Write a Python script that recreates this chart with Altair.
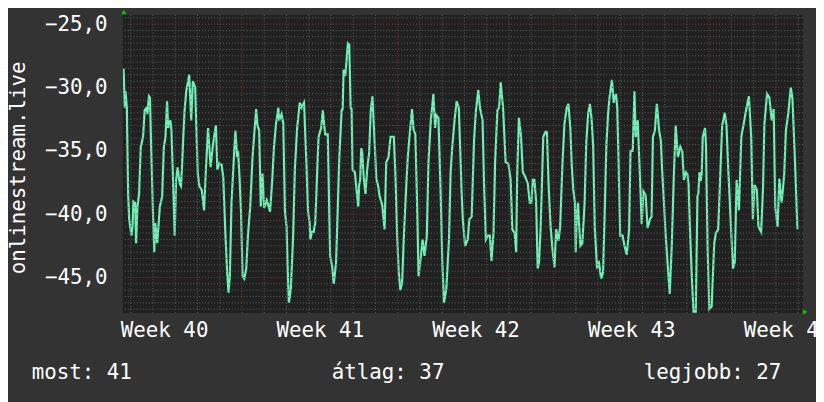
import altair as alt
import pandas as pd

# time in hours since the start of week 40, value of the series
hours = [
    40.2, 41.7, 42.4, 43.8, 45.2, 46.3, 48.8, 49.9, 50.9, 52.7, 53.8, 55.2, 57.0, 58.8, 61.3, 63.0, 65.2, 65.9, 67.7, 68.7,
    70.2, 71.9, 73.4, 74.4, 76.6, 79.4, 81.9, 83.7, 85.5, 87.2, 88.3, 90.8, 91.9, 93.3, 95.4, 96.9, 98.6, 100.8, 102.2, 103.3,
    104.3, 106.1, 107.9, 111.1, 113.2, 115.0, 117.5, 120.3, 122.1, 124.6, 127.1, 129.2, 131.4, 134.2, 136.4, 138.9, 139.9, 141.4, 143.5, 146.0,
    147.8, 149.9, 152.0, 153.5, 154.9, 156.7, 159.5, 160.9,
    162.7, 163.7, 165.5, 166.9, 168.7, 170.5, 172.6, 174.4, 176.9, 179.4, 181.5, 183.3, 184.7, 186.5, 188.3, 190.1, 191.9, 194.7, 198.3, 200.8,
    202.5, 204.7, 207.2, 208.2, 210.7, 212.5, 214.3, 216.1, 217.1, 218.6, 220.7, 223.2, 225.0, 227.5, 230.3, 232.1, 234.9, 237.4, 239.2, 241.0,
    241.7, 243.5, 245.3, 247.0, 250.6, 253.4, 255.2, 257.7, 260.5, 263.1, 265.2, 267.0, 269.5, 273.0, 275.5, 276.6, 277.6, 279.4, 282.3,
    283.7, 285.2, 286.2, 287.3, 289.8, 291.6, 293.4, 294.4, 295.5, 296.6, 297.6, 299.4, 301.2, 303.0, 305.1, 306.9, 308.7, 311.2, 312.9, 314.7,
    316.5, 319.3, 321.8, 323.6, 326.1, 328.2, 331.8, 333.6, 335.4, 337.1, 338.9, 340.7, 342.5, 344.3, 346.8, 349.3, 351.4, 353.2, 355.0, 356.7,
    358.5, 361.0, 362.8, 364.9, 367.4, 369.2, 371.7, 374.5, 376.3, 377.7, 379.9, 382.4, 384.1, 385.9, 388.4, 391.3, 393.0, 394.8, 397.3, 399.5,
    401.9, 403.7, 404.8,
    406.2, 408.7, 411.5, 413.3, 415.8, 418.3, 420.4, 422.9, 424.7, 427.5, 429.3, 431.1, 433.2, 435.4, 437.1, 439.3, 441.0, 443.5, 445.3, 447.1,
    449.6, 452.4, 455.3, 457.8, 459.6, 462.1, 463.8, 464.9, 466.7, 468.8, 471.0, 473.8, 476.3, 478.4, 480.2, 481.6, 483.4, 485.2, 487.0, 488.4,
    490.2, 493.0, 495.2, 496.9, 498.7, 500.9, 503.0, 505.1, 506.9, 509.4, 511.2, 513.7, 515.8, 518.3, 520.1, 522.2, 523.6, 525.4,
    527.2, 528.0, 529.0, 530.5, 531.5, 533.0, 535.1, 537.6, 539.4, 541.5, 543.3, 545.0, 546.8, 548.6, 551.1, 552.9, 555.4, 557.5, 559.3, 561.1,
    562.8, 564.6, 567.1, 568.9, 571.4, 572.8, 574.2, 576.0, 578.5, 580.6, 583.1, 585.6, 587.1, 589.5, 591.3, 592.8, 594.9, 597.4, 599.2, 601.0,
    603.4, 605.6, 608.1, 609.8, 611.3, 613.4, 615.5, 618.0, 619.8, 621.2, 625.1, 627.3, 629.4, 631.6, 633.7, 635.8, 638.3, 640.8, 643.0, 644.7,
    646.9, 648.3,
    649.7, 651.4, 653.2, 655.0, 657.5, 659.3, 660.3, 661.4, 662.8, 663.9, 665.0, 667.5, 668.5, 670.3, 672.1, 674.6, 677.4, 679.2, 681.7, 683.8,
    686.0, 688.8, 690.6, 692.7, 695.9, 697.7, 699.5, 701.6, 704.1, 706.6, 709.1, 712.0, 714.8, 717.3, 719.1, 720.9, 723.4, 725.1, 728.0, 730.1,
    731.5, 734.4, 736.9, 739.4, 741.5, 743.3, 745.8, 747.6, 750.1, 752.9, 754.7, 757.2, 760.0, 761.8, 764.6, 767.1, 768.2,
]
values = [
    -28.5, -31.6, -30.3, -31.6, -38.4, -40.4, -41.7, -41.0, -39.0, -39.1, -42.3, -39.4, -38.4, -34.7, -33.9, -31.8, -31.6, -32.1, -30.7, -30.8,
    -35.2, -39.7, -43.0, -40.7, -42.3, -39.4, -38.6, -34.7, -33.9, -31.1, -33.2, -32.6, -33.4, -36.5, -41.7, -37.3, -36.3, -37.6, -37.8, -36.3,
    -34.5, -31.8, -30.3, -29.0, -32.6, -29.5, -30.0, -36.8, -37.8, -38.1, -39.7, -36.3, -33.2, -36.3, -34.7, -33.4, -33.0, -36.5, -36.0, -36.1,
    -37.1, -41.2, -44.6, -46.2, -44.9, -39.1, -35.2, -33.4,
    -35.5, -35.0, -37.3, -39.7, -44.9, -45.1, -44.3, -41.7, -39.4, -35.5, -33.4, -31.7, -33.0, -33.4, -39.4, -36.8, -39.5, -38.9, -39.8, -37.1,
    -34.7, -32.9, -31.6, -32.6, -32.1, -32.8, -39.7, -41.0, -43.8, -47.0, -45.9, -41.7, -36.5, -33.2, -31.2, -31.6, -31.2, -35.8, -39.7, -40.7,
    -42.0, -41.4, -41.4, -40.7, -33.9, -33.2, -31.8, -33.7, -33.7, -43.3, -44.1, -45.5, -43.8, -35.5, -31.8, -31.7, -28.6, -29.1, -26.5,
    -26.6, -31.6, -31.7, -36.5, -36.7, -38.1, -39.4, -37.7, -37.3, -34.8, -35.0, -37.2, -38.4, -36.5, -35.2, -31.8, -30.7, -34.5, -37.2, -37.7,
    -38.6, -39.3, -41.2, -35.9, -35.5, -33.9, -33.9, -37.1, -41.7, -44.6, -46.0, -45.4, -42.0, -39.1, -35.5, -33.4, -31.7, -33.4, -33.7, -38.6,
    -44.9, -43.3, -42.0, -43.3, -41.7, -35.8, -32.6, -30.5, -33.2, -32.2, -32.4, -38.6, -43.8, -47.0, -45.9, -42.0, -36.8, -34.7, -32.6, -31.1,
    -31.6, -35.5, -38.1,
    -40.4, -42.5, -42.0, -40.4, -40.2, -34.2, -31.8, -30.2, -31.6, -32.6, -38.1, -42.0, -41.7, -41.7, -43.7, -41.5, -36.0, -31.8, -31.6, -29.6,
    -31.6, -35.9, -36.0, -37.3, -41.2, -41.5, -43.0, -36.8, -32.4, -33.7, -36.7, -37.1, -37.6, -39.1, -39.1, -37.3, -37.3, -38.9, -44.3, -43.8,
    -41.0, -33.9, -33.5, -33.5, -37.6, -41.0, -42.8, -44.2, -41.2, -42.1, -41.0, -36.0, -32.9, -31.6, -31.3, -33.2, -36.0, -38.1,
    -39.1, -43.0, -40.4, -39.1, -40.6, -42.5, -42.3, -39.1, -34.3, -32.0, -31.3, -32.4, -34.6, -41.2, -44.3, -43.7, -45.1, -44.6, -39.7, -34.5,
    -32.2, -30.7, -29.4, -31.2, -30.5, -31.6, -35.8, -41.7, -41.7, -42.5, -43.2, -41.2, -35.0, -35.0, -30.3, -33.9, -32.6, -37.3, -40.8, -38.2,
    -38.5, -41.1, -40.4, -40.2, -33.9, -33.4, -31.3, -33.4, -34.2, -36.5, -41.7, -44.1, -46.3, -42.5, -37.3, -33.0, -35.5, -34.7, -35.1, -37.3,
    -36.7, -36.8,
    -37.6, -41.5, -44.9, -47.7, -47.7, -38.6, -38.4, -36.7, -37.4, -36.8, -33.9, -33.2, -34.5, -42.8, -47.5, -47.3, -42.3, -41.5, -41.2, -37.1,
    -33.0, -32.0, -33.0, -36.7, -41.7, -44.3, -43.8, -37.3, -39.7, -33.9, -32.9, -31.7, -30.7, -33.9, -40.4, -37.7, -38.1, -41.0, -41.4, -37.8,
    -32.9, -30.5, -30.8, -32.6, -31.7, -39.5, -41.0, -37.2, -39.1, -36.9, -33.4, -32.1, -30.0, -30.9, -36.0, -41.1, -41.1,
]

week_label_hours = [84, 252, 420, 588, 756]   # middle of weeks 40..44
y_tick_values = [-45, -40, -35, -30, -25]
y_title = "onlinestream.live"
legend_texts = ["most: 41", "átlag: 37", "legjobb: 27"]

day_lines = [h for h in range(48, 792, 24) if h % 168 != 0]
week_lines = [168, 336, 504, 672]
minor_y = [v / 2 for v in range(-95, -48) if v % 10 != 0]
major_y = [-45, -40, -35, -30, -25]

X_DOMAIN = [39.5, 773.3]
Y_DOMAIN = [-47.8, -24.27]
FONT = "DejaVu Sans Mono"
FS = 21
WHITE = "#ffffff"

xs = alt.Scale(domain=X_DOMAIN, nice=False, zero=False)
ys = alt.Scale(domain=Y_DOMAIN, nice=False, zero=False)

df = pd.DataFrame({"h": hours, "v": values})

x_axis = alt.Axis(
    values=week_label_hours,
    labelExpr="'Week ' + (40 + floor(datum.value / 168))",
    grid=False, ticks=False, domain=False, title=None,
    labelFont=FONT, labelFontSize=FS, labelColor=WHITE,
    labelPadding=7, labelFlush=False, labelOverlap=False,
    labelBaseline="top",
)
y_axis = alt.Axis(
    values=y_tick_values,
    labelExpr="replace(format(datum.value, '.1f'), '.', ',')",
    grid=False, ticks=False, domain=False,
    labelFont=FONT, labelFontSize=FS, labelColor=WHITE,
    labelPadding=16, labelBaseline="middle",
    title=y_title, titleFont=FONT, titleFontSize=FS, titleColor=WHITE,
    titleFontWeight="normal", titleAngle=270, titleX=-99, titleY=154,
    titleAlign="center", titleBaseline="alphabetic",
)

minor_x_grid = alt.Chart(pd.DataFrame({"h": day_lines})).mark_rule(
    color="#5c5c5c", strokeWidth=1, strokeDash=[1, 2]
).encode(x=alt.X("h:Q", scale=xs))
major_x_grid = alt.Chart(pd.DataFrame({"h": week_lines})).mark_rule(
    color="#8a3535", strokeWidth=1, strokeDash=[1, 2]
).encode(x=alt.X("h:Q", scale=xs))
minor_y_grid = alt.Chart(pd.DataFrame({"v": minor_y})).mark_rule(
    color="#5c5c5c", strokeWidth=1, strokeDash=[1, 2]
).encode(y=alt.Y("v:Q", scale=ys))
major_y_grid = alt.Chart(pd.DataFrame({"v": major_y})).mark_rule(
    color="#8a3535", strokeWidth=1, strokeDash=[1, 2]
).encode(y=alt.Y("v:Q", scale=ys))

line = alt.Chart(df).mark_line(color="#70f0b4", strokeWidth=2.2, clip=True).encode(
    x=alt.X("h:Q", scale=xs, axis=x_axis),
    y=alt.Y("v:Q", scale=ys, axis=y_axis),
)

up_arrow = alt.Chart(pd.DataFrame({"a": [0]})).mark_point(
    shape="triangle-up", filled=True, size=28, color="#00cc00", opacity=1
).encode(x=alt.value(1), y=alt.value(-3))
right_arrow = alt.Chart(pd.DataFrame({"a": [0]})).mark_point(
    shape="triangle-right", filled=True, size=28, color="#00cc00", opacity=1
).encode(x=alt.value(689), y=alt.value(300))

legend_x = [-92, 211, 526]
texts = []
for t, px in zip(legend_texts, legend_x):
    texts.append(
        alt.Chart(pd.DataFrame({"t": [t]})).mark_text(
            align="left", baseline="alphabetic", font=FONT, fontSize=FS, color=WHITE
        ).encode(text="t:N", x=alt.value(px), y=alt.value(368))
    )

chart = alt.layer(
    line, minor_x_grid, minor_y_grid, major_x_grid, major_y_grid, up_arrow, right_arrow, *texts
).properties(
    width=687,
    height=301,
    autosize=alt.AutoSizeParams(type="none"),
    padding={"left": 116, "top": 5, "right": 13, "bottom": 88},
).configure(background="#333333").configure_view(fill="#212121", stroke=None)

chart.save("out.html", embed_options={"renderer": "svg", "actions": False})
